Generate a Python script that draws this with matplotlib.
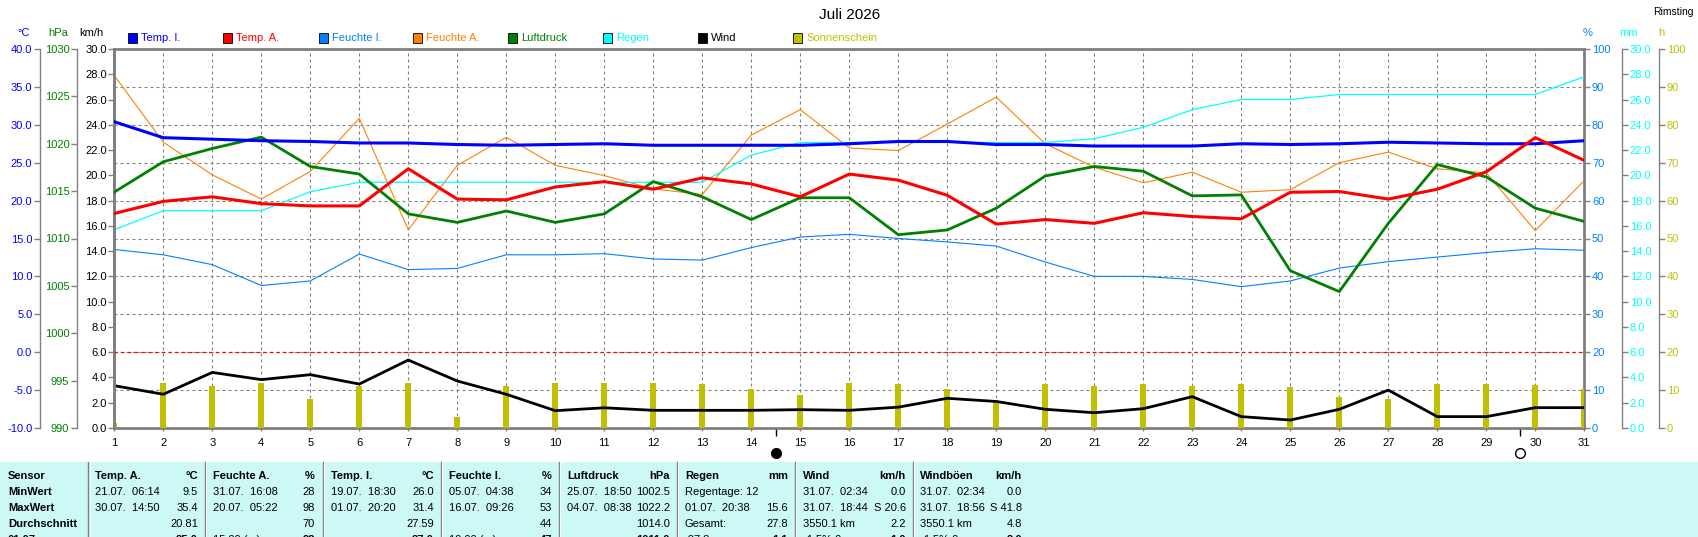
import matplotlib
matplotlib.use('Agg')
import matplotlib.pyplot as plt
from matplotlib.patches import Rectangle
from matplotlib.lines import Line2D
from matplotlib.ticker import FormatStrFormatter, MultipleLocator
import matplotlib.transforms as mtransforms

plt.rcParams['font.family'] = ['Liberation Sans', 'DejaVu Sans']

# ---------------- data ----------------
days = list(range(1, 32))
temp_in = [30.4, 28.3, 28.1, 27.9, 27.8, 27.6, 27.6, 27.4, 27.3, 27.4, 27.5, 27.3, 27.3, 27.3, 27.3,
           27.5, 27.8, 27.8, 27.4, 27.4, 27.2, 27.2, 27.2, 27.5, 27.4, 27.5, 27.7, 27.6, 27.5, 27.5, 27.9]
temp_out = [18.3, 19.9, 20.5, 19.6, 19.3, 19.3, 24.2, 20.2, 20.1, 21.8, 22.5, 21.5, 23.0, 22.2, 20.5,
            23.5, 22.7, 20.7, 16.9, 17.5, 17.0, 18.4, 17.9, 17.6, 21.1, 21.2, 20.2, 21.5, 23.8, 28.3, 25.3]
hum_in = [47.1, 45.7, 43.1, 37.6, 38.8, 45.9, 41.8, 42.1, 45.7, 45.7, 46.0, 44.6, 44.3, 47.6, 50.4,
          51.1, 50.0, 49.1, 48.0, 43.8, 40.0, 40.0, 39.2, 37.3, 38.8, 42.2, 43.9, 45.1, 46.3, 47.3, 46.9]
hum_out = [93.0, 75.4, 66.8, 60.4, 67.7, 81.7, 52.3, 69.3, 76.7, 69.3, 66.6, 63.1, 61.6, 77.3, 84.0,
           73.9, 73.2, 80.2, 87.3, 75.0, 68.8, 64.7, 67.5, 62.2, 62.9, 70.0, 72.8, 68.4, 67.3, 52.1, 65.3]
pressure = [1014.9, 1018.1, 1019.5, 1020.7, 1017.6, 1016.8, 1012.6, 1011.7, 1012.9, 1011.7, 1012.6,
            1016.0, 1014.4, 1012.0, 1014.3, 1014.3, 1010.4, 1010.9, 1013.2, 1016.6, 1017.6, 1017.1,
            1014.5, 1014.6, 1006.6, 1004.4, 1011.6, 1017.8, 1016.5, 1013.2, 1011.8]
rain = [15.7, 17.2, 17.2, 17.2, 18.7, 19.45, 19.45, 19.45, 19.45, 19.45, 19.45, 19.45, 19.45, 21.6, 22.6,
        22.6, 22.6, 22.6, 22.6, 22.6, 22.9, 23.8, 25.2, 26.0, 26.0, 26.4, 26.4, 26.4, 26.4, 26.4, 27.8]
wind = [3.35, 2.67, 4.4, 3.83, 4.22, 3.48, 5.38, 3.72, 2.67, 1.37, 1.6, 1.4, 1.4, 1.4, 1.45,
        1.4, 1.65, 2.35, 2.1, 1.48, 1.21, 1.53, 2.48, 0.9, 0.63, 1.48, 3.0, 0.9, 0.9, 1.61, 1.61]
sunshine = [1.3, 12.0, 11.1, 11.8, 7.6, 11.1, 11.8, 2.8, 11.1, 11.9, 11.9, 11.9, 11.6, 10.4, 8.7,
            11.8, 11.5, 10.4, 7.0, 11.6, 11.1, 11.6, 11.1, 11.6, 10.9, 8.2, 7.6, 11.6, 11.6, 11.4, 10.2]
moon_days = [14.5, 29.69]
moon_filled = [True, False]

title = "Juli 2026"
station = "Rimsting"
legend_names = ["Temp. I.", "Temp. A.", "Feuchte I.", "Feuchte A.", "Luftdruck", "Regen", "Wind", "Sonnenschein"]

# table
sensor_names = ["Temp. A.", "Feuchte A.", "Temp. I.", "Feuchte I.", "Luftdruck", "Regen", "Wind", "Windböen"]
units = ["°C", "%", "°C", "%", "hPa", "mm", "km/h", "km/h"]
row_labels = ["Sensor", "MinWert", "MaxWert", "Durchschnitt", "01.07."]
min_left = ["21.07.  06:14", "31.07.  16:08", "19.07.  18:30", "05.07.  04:38", "25.07.  18:50",
            "Regentage: 12", "31.07.  02:34", "31.07.  02:34"]
min_right = ["9.5", "28", "26.0", "34", "1002.5", "", "0.0", "0.0"]
max_left = ["30.07.  14:50", "20.07.  05:22", "01.07.  20:20", "16.07.  09:26", "04.07.  08:38",
            "01.07.  20:38", "31.07.  18:44", "31.07.  18:56"]
max_right = ["35.4", "98", "31.4", "53", "1022.2", "15.6", "S 20.6", "S 41.8"]
avg_left = ["", "", "", "", "", "Gesamt:", "3550.1 km", "3550.1 km"]
avg_right = ["20.81", "70", "27.59", "44", "1014.0", "27.8", "2.2", "4.8"]
last_left = ["", "15:00 (...)", "", "19:00 (...)", "", "-27.8", "-1.5% 0", "-1.5% 0"]
last_right = ["25.0", "98", "27.0", "47", "1011.0", "1.1", "1.0", "2.0"]

# ---------------- styling ----------------
C_TI = '#0000FF'
C_TA = '#FF0000'
C_HI = '#0080FF'
C_HA = '#FF8000'
C_P = '#008000'
C_R = '#00FFFF'
C_W = '#000000'
C_S = '#C0C000'
GRAY = '#808080'
legend_colors = [C_TI, C_TA, C_HI, C_HA, C_P, C_R, C_W, C_S]

W, H = 1699, 537
fig = plt.figure(figsize=(W / 100, H / 100), dpi=100)
fig.patch.set_facecolor('white')


def fx(px):
    return px / W


def fy(py):
    return 1 - py / H


L, R, T, B = 114.3, 1584.3, 49.0, 428.0
PW = R - L
ax = fig.add_axes([fx(L), fy(B), PW / W, (B - T) / H])

TICK_FS = 8


def make_twin(side, pos_px, ylim, color, fmt, step):
    tw = ax.twinx()
    for s in tw.spines.values():
        s.set_visible(False)
    sp = tw.spines[side]
    sp.set_visible(True)
    sp.set_color(GRAY)
    sp.set_linewidth(1.0)
    sp.set_position(('axes', (pos_px - L) / PW))
    if side == 'left':
        tw.yaxis.tick_left()
    else:
        tw.yaxis.tick_right()
    tw.set_ylim(*ylim)
    tw.yaxis.set_major_locator(MultipleLocator(step))
    tw.yaxis.set_major_formatter(FormatStrFormatter(fmt))
    tw.tick_params(axis='y', direction='out', length=4, width=1, color=GRAY,
                   labelcolor=color, labelsize=TICK_FS, pad=1.5)
    return tw


axS = make_twin('right', 1659, (0, 100), C_S, '%d', 10)
axR = make_twin('right', 1622, (0, 30), C_R, '%.1f', 2)
axW = make_twin('left', L, (0, 30), 'black', '%.1f', 2)
axW.spines['left'].set_linewidth(2.0)
axP = make_twin('left', 77, (990, 1030), C_P, '%d', 5)
axT = make_twin('left', 40, (-10, 40), C_TI, '%.1f', 5)

# base axis: humidity %, right side
ax.set_xlim(1, 31)
ax.set_ylim(0, 100)
ax.yaxis.tick_right()
ax.yaxis.set_major_locator(MultipleLocator(10))
ax.yaxis.set_major_formatter(FormatStrFormatter('%d'))
ax.set_xticks(days)
ax.tick_params(axis='y', direction='out', length=4, width=1, color=GRAY,
               labelcolor=C_HI, labelsize=TICK_FS, pad=1.5)
ax.tick_params(axis='x', direction='out', length=2, width=1, color=GRAY,
               labelcolor='black', labelsize=TICK_FS, pad=5.5)
for s in ax.spines.values():
    s.set_color(GRAY)
    s.set_linewidth(2.0)
ax.grid(True, color=GRAY, linestyle=(0, (2.7, 2.7)), linewidth=0.8)
ax.set_axisbelow(True)

# ---------------- series ----------------
ax.plot(days, hum_in, color=C_HI, lw=0.8, zorder=3)
ax.plot(days, hum_out, color=C_HA, lw=0.8, zorder=3)
axS.bar(days, sunshine, width=0.12, color=C_S, zorder=2)
axR.plot(days, rain, color=C_R, lw=0.9)
axW.plot(days, wind, color=C_W, lw=2.0)
axP.plot(days, pressure, color=C_P, lw=2.0)
axT.axhline(0, color=C_TA, lw=0.9, linestyle=(0, (2.7, 2.7)))
axT.plot(days, temp_in, color=C_TI, lw=2.2)
axT.plot(days, temp_out, color=C_TA, lw=2.2)

# moon phases below the x axis
blend = mtransforms.blended_transform_factory(ax.transData, ax.transAxes)
ax.vlines(moon_days, -0.022, 0, transform=blend, color='black', lw=1.0, clip_on=False)
for d, filled in zip(moon_days, moon_filled):
    ax.plot([d], [-0.066], marker='o', markersize=7, transform=blend, clip_on=False,
            markerfacecolor='black' if filled else 'white', markeredgecolor='black',
            markeredgewidth=1.0)

# ---------------- texts: title, units, legend ----------------
fig.text(fx(850), fy(15), title, ha='center', va='center', fontsize=11, color='black')
fig.text(fx(1694), fy(12), station, ha='right', va='center', fontsize=7.5, color='black')

unit_labels = [("°C", 24, C_TI), ("hPa", 58, C_P), ("km/h", 91, 'black'),
               ("%", 1588, C_HI), ("mm", 1629, C_R), ("h", 1661, C_S)]
for txt, x, c in unit_labels:
    fig.text(fx(x), fy(33), txt, ha='center', va='center', fontsize=TICK_FS, color=c)

leg_x = [128, 223, 319, 413, 508, 603, 698, 793]
for name, x, c in zip(legend_names, leg_x, legend_colors):
    fig.add_artist(Rectangle((fx(x), fy(43)), 9 / W, 10 / H, transform=fig.transFigure,
                             facecolor=c, edgecolor='black', linewidth=0.6))
    fig.text(fx(x + 13), fy(38), name, ha='left', va='center', fontsize=TICK_FS, color=c)

# ---------------- statistics table ----------------
TOP = 462
fig.add_artist(Rectangle((0, 0), 1, (H - TOP) / H, transform=fig.transFigure,
                         facecolor='#CCF8F6', edgecolor='none', zorder=0))
sep_x = [88, 205, 323, 441, 559, 677, 795, 913]
for x in sep_x:
    fig.add_artist(Line2D([fx(x), fx(x)], [fy(TOP), 0], transform=fig.transFigure,
                          color=GRAY, lw=1.0))
    fig.add_artist(Line2D([fx(x + 1.5), fx(x + 1.5)], [fy(TOP), 0], transform=fig.transFigure,
                          color='white', lw=0.8))

row_y = [476, 492, 508, 524, 540]
for lbl, y in zip(row_labels, row_y):
    fig.text(fx(8), fy(y), lbl, ha='left', va='center', fontsize=8, fontweight='bold')

col_left = [95, 213, 331, 449, 567, 685, 803, 920]
col_right = [198, 315, 434, 552, 670, 788, 906, 1022]
for i in range(len(sensor_names)):
    xl, xr = fx(col_left[i]), fx(col_right[i])
    fig.text(xl, fy(row_y[0]), sensor_names[i], ha='left', va='center', fontsize=8, fontweight='bold')
    fig.text(xr, fy(row_y[0]), units[i], ha='right', va='center', fontsize=8, fontweight='bold')
    rows = [(min_left, min_right), (max_left, max_right), (avg_left, avg_right)]
    for (lft, rgt), y in zip(rows, row_y[1:4]):
        fig.text(xl, fy(y), lft[i], ha='left', va='center', fontsize=8)
        fig.text(xr, fy(y), rgt[i], ha='right', va='center', fontsize=8)
    fig.text(xl, fy(row_y[4]), last_left[i], ha='left', va='center', fontsize=8)
    fig.text(xr, fy(row_y[4]), last_right[i], ha='right', va='center', fontsize=8, fontweight='bold')

fig.savefig('out.png', dpi=100)
